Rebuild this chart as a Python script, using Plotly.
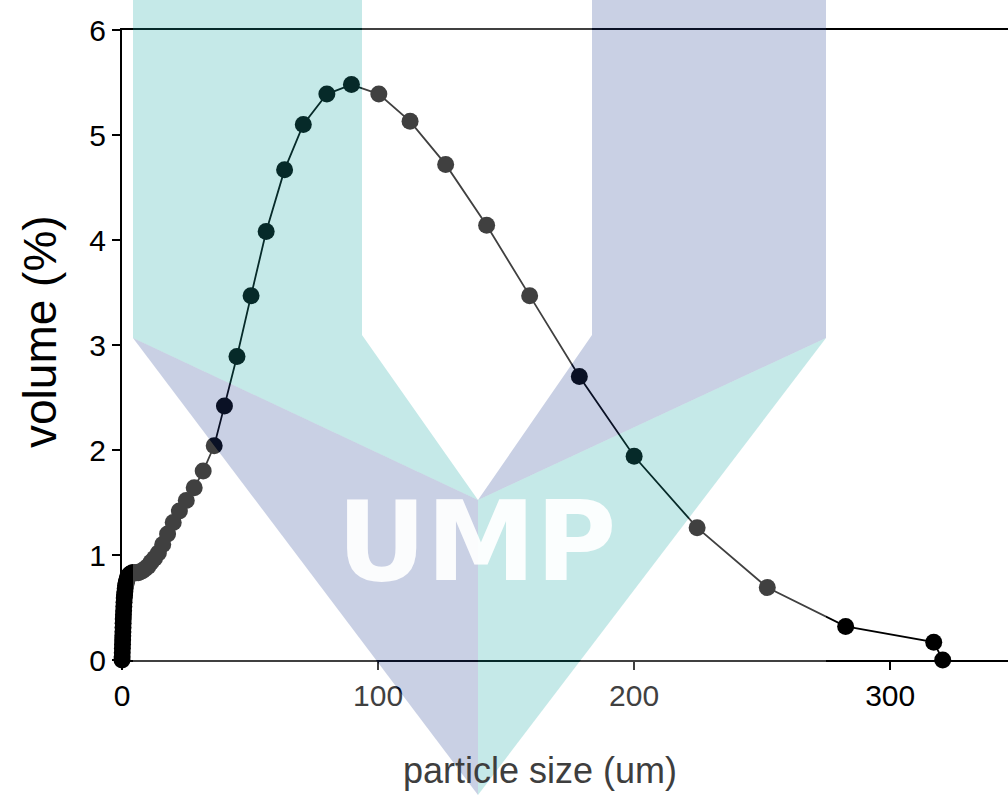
import plotly.graph_objects as go

# Particle size distribution (volume % per size class)
particle_size_um = [
    0.0, 0.05, 0.1, 0.15, 0.2, 0.25, 0.3, 0.35, 0.4, 0.45, 0.5, 0.56, 0.63,
    0.71, 0.8, 0.89, 1.0, 1.12, 1.26, 1.41, 1.59, 1.78, 2.0, 2.24, 2.52,
    2.83, 3.17, 3.56, 4.0, 4.49, 5.04, 5.66, 6.35, 7.13, 8.0, 9.0, 10.1,
    11.3, 12.7, 14.2, 15.9, 17.8, 20.0, 22.4, 25.1, 28.2, 31.7, 36.0,
    40.0, 44.9, 50.4, 56.3, 63.5, 70.8, 80.0, 89.6, 100.3, 112.5, 126.4,
    142.4, 159.2, 178.6, 200.0, 224.6, 252.0, 282.6, 317.0, 320.5,
]
volume_pct = [
    0.0, 0.03, 0.07, 0.11, 0.15, 0.19, 0.23, 0.27, 0.31, 0.35, 0.39, 0.43,
    0.47, 0.51, 0.55, 0.59, 0.62, 0.65, 0.68, 0.71, 0.73, 0.75, 0.77, 0.79,
    0.80, 0.81, 0.82, 0.82, 0.83, 0.83, 0.83, 0.83, 0.83, 0.84, 0.85, 0.87,
    0.89, 0.93, 0.97, 1.02, 1.10, 1.20, 1.31, 1.42, 1.52, 1.64, 1.80, 2.04,
    2.42, 2.89, 3.47, 4.08, 4.67, 5.10, 5.39, 5.48, 5.39, 5.13, 4.72, 4.14,
    3.47, 2.70, 1.94, 1.26, 0.69, 0.32, 0.17, 0.0,
]

x_ticks = [0, 100, 200, 300]
y_ticks = [0, 1, 2, 3, 4, 5, 6]

W, H = 1008, 795
L, R, T, B = 122, 0, 30, 135


def px(x, y):
    """Pixel position -> paper coordinates."""
    return (x - L) / (W - L - R), (H - B - y) / (H - T - B)


def path(points, close=True):
    parts = []
    for i, (x, y) in enumerate(points):
        u, v = px(x, y)
        parts.append(("M" if i == 0 else "L") + f"{u:.5f},{v:.5f}")
    return " ".join(parts) + (" Z" if close else "")


fig = go.Figure()
fig.add_trace(go.Scatter(
    x=particle_size_um, y=volume_pct, mode="lines+markers",
    line=dict(color="black", width=1.8),
    marker=dict(color="black", size=17),
    cliponaxis=False, showlegend=False,
))

# Logo watermark overlay
outline = [(133, 0), (362, 0), (362, 335), (478, 500), (592, 335), (592, 0),
           (826, 0), (826, 338), (478, 795), (133, 338)]
box = [(133, -5), (826, -5), (826, 800), (133, 800)]
veil = path(box) + " " + path(outline)
cyan = "rgba(23,167,163,0.25)"
blue = "rgba(39,67,147,0.25)"
regions = [
    (veil, "rgba(255,255,255,0.25)"),
    (path([(133, -5), (362, -5), (362, 335), (478, 500), (133, 338)]), cyan),
    (path([(133, 338), (478, 500), (478, 795)]), blue),
    (path([(592, -5), (826, -5), (826, 338), (478, 500), (592, 335)]), blue),
    (path([(826, 338), (478, 795), (478, 500)]), cyan),
]
for d, col in regions:
    fig.add_shape(type="path", path=d, xref="paper", yref="paper",
                  fillcolor=col, line=dict(width=0), layer="above",
                  fillrule="evenodd")

ux, uy = px(476, 542)
fig.add_annotation(text="UMP", x=ux, y=uy, xref="paper", yref="paper",
                   showarrow=False, xanchor="center", yanchor="middle",
                   font=dict(family="DejaVu Sans", size=110, weight="bold",
                             color="rgba(255,255,255,0.93)"))

tx, ty = px(540, 770)
fig.add_annotation(text="particle size (um)", x=tx, y=ty, xref="paper",
                   yref="paper", showarrow=False, xanchor="center",
                   yanchor="middle",
                   font=dict(family="Liberation Sans", size=36,
                             color="rgb(62,62,62)"))
vx, vy = px(40, 332)
fig.add_annotation(text="volume (%)", x=vx, y=vy, xref="paper", yref="paper",
                   showarrow=False, xanchor="center", yanchor="middle",
                   textangle=-90,
                   font=dict(family="Liberation Sans", size=46, color="black"))

axis_common = dict(
    showline=True, linecolor="black", linewidth=2,
    showgrid=False, zeroline=False,
    ticks="outside", ticklen=8, tickwidth=2, tickcolor="black",
    tickfont=dict(family="Liberation Sans", size=30, color="black"),
)
fig.update_xaxes(range=[0, 346], tickvals=x_ticks, mirror=True, **axis_common)
fig.update_yaxes(range=[0, 6], tickvals=y_ticks, **axis_common)

fig.update_layout(
    width=W, height=H,
    margin=dict(l=L, r=R, t=T, b=B, pad=0),
    paper_bgcolor="white", plot_bgcolor="white",
)

fig.write_html("out.html")
